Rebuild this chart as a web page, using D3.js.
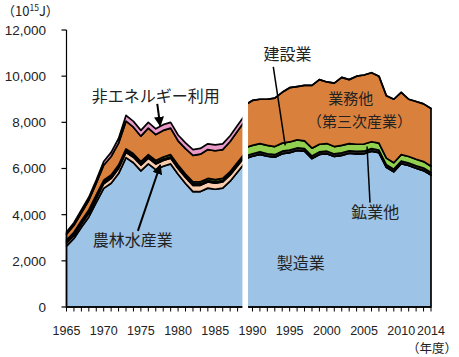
<!DOCTYPE html>
<html><head><meta charset="utf-8">
<script src="https://cdn.jsdelivr.net/npm/d3@7"></script>
<style>body{margin:0;background:#fff} svg{display:block}</style>
</head><body>
<svg id="c" width="459" height="357"></svg>
<script>
// ---- data (10^15 J) ----
const yearsOld = [1965,1966,1967,1968,1969,1970,1971,1972,1973,1974,1975,1976,1977,1978,1979,1980,1981,1982,1983,1984,1985,1986,1987,1988,1989];
const manuOld   = [2640,2970,3450,3900,4530,5140,5360,5780,6470,6250,5900,6200,5950,6100,6200,5750,5350,5000,5000,5150,5100,5150,5450,5850,6250];
const agriOld   = [120,130,140,160,180,200,210,220,230,240,250,250,250,250,250,250,260,270,270,270,270,270,270,270,270];
const miningOld = [60,60,60,60,60,60,60,60,60,60,60,60,60,60,60,60,60,60,60,60,60,60,60,60,60];
const constrOld = [80,80,85,85,90,90,90,90,90,90,90,90,90,90,90,90,90,90,90,90,90,90,90,90,90];
const commOld   = [250,300,350,420,500,650,800,950,1200,1150,1100,1150,1120,1150,1150,1050,1100,1150,1200,1250,1250,1250,1300,1350,1400];
const nonenOld  = [100,110,120,130,140,160,180,200,250,250,250,250,250,250,250,250,250,250,250,250,250,250,250,250,250];

const yearsNew = [1989,1990,1991,1992,1993,1994,1995,1996,1997,1998,1999,2000,2001,2002,2003,2004,2005,2006,2007,2008,2009,2010,2011,2012,2013,2014];
const manuNew   = [6430,6530,6610,6530,6490,6640,6690,6780,6750,6430,6610,6640,6520,6570,6660,6630,6640,6750,6690,6050,5860,6210,6130,6010,5910,5720];
const agriNew   = [0,0,0,0,0,0,0,0,0,0,0,0,0,0,0,0,0,0,0,0,0,0,0,0,0,0];
const miningNew = [110,110,110,110,110,110,110,110,110,110,110,110,110,110,110,110,110,110,110,110,110,110,110,110,110,110];
const constrNew = [360,360,360,360,350,350,350,350,340,340,330,330,320,320,310,310,310,300,300,290,280,280,280,280,280,270];
const commNew   = [1850,1950,1920,2000,2100,2200,2350,2310,2400,2720,2800,2670,2750,2950,2770,2950,2990,2990,2900,2700,2750,2700,2480,2500,2500,2500];
const nonenNew  = [0,0,0,0,0,0,0,0,0,0,0,0,0,0,0,0,0,0,0,0,0,0,0,0,0,0];

const keys = ["manu","agri","mining","constr","comm","nonen"];
const colors = {manu:"#9dc3e6", agri:"#f8cbad", mining:"#2a2a2a", constr:"#92d050", comm:"#d9813c", nonen:"#ea9ac8"};

const yTicks = [0,2000,4000,6000,8000,10000,12000];
const xLabels = [1965,1970,1975,1980,1985,1990,1995,2000,2005,2010,2014];
const breakYear = 1989;

// ---- scales ----
const svg = d3.select("#c");
const x = d3.scaleLinear().domain([1965, 2014]).range([66.5, 431]);
const y = d3.scaleLinear().domain([0, 12000]).range([307, 30]);

function rows(years, m, a, mi, c, co, n){
  return years.map((yr,i)=>({year:yr, manu:m[i], agri:a[i], mining:mi[i], constr:c[i], comm:co[i], nonen:n[i]}));
}
const segments = [
  rows(yearsOld, manuOld, agriOld, miningOld, constrOld, commOld, nonenOld),
  rows(yearsNew, manuNew, agriNew, miningNew, constrNew, commNew, nonenNew)
];
const stack = d3.stack().keys(keys);
const area = d3.area().x(d=>x(d.data.year)).y0(d=>y(d[0])).y1(d=>y(d[1]));

segments.forEach(seg=>{
  const layers = stack(seg);
  svg.append("g").selectAll("path").data(layers).join("path")
    .attr("d", area)
    .attr("fill", d=>colors[d.key])
    .attr("stroke", "#000")
    .attr("stroke-width", 1.7)
    .attr("stroke-linejoin", "round");
});

// ---- axes ----
const ax = svg.append("g").attr("stroke","#000").attr("fill","none");
ax.append("line").attr("x1",x(1965)).attr("x2",x(1965)).attr("y1",y(0)).attr("y2",y(12000)).attr("stroke-width",1.2);
yTicks.forEach(t=>{
  ax.append("line").attr("x1",x(1965)-5).attr("x2",x(1965)).attr("y1",y(t)).attr("y2",y(t)).attr("stroke-width",1.2);
});
ax.append("line").attr("x1",x(1965)).attr("x2",x(2014)).attr("y1",y(0)).attr("y2",y(0)).attr("stroke-width",1.6);
d3.range(1965, 2015).forEach(yr=>{
  ax.append("line").attr("x1",x(yr)).attr("x2",x(yr)).attr("y1",y(0)).attr("y2",y(0)+4.5).attr("stroke-width",1);
});

// white break between old and new statistics
svg.append("rect").attr("x", x(breakYear)-2.6).attr("width", 5.6)
  .attr("y", y(12000)).attr("height", y(0)-y(12000)+6).attr("fill","#fff");

const numFont = "'Liberation Sans', Arial, sans-serif";
const jpFont = "'Noto Sans CJK JP', sans-serif";

svg.append("g").selectAll("text").data(yTicks).join("text")
  .attr("x", 46).attr("y", d=>y(d)).attr("dy","0.36em")
  .attr("text-anchor","end").attr("font-family",numFont).attr("font-size",13.5).attr("fill","#222")
  .text(d=>d3.format(",")(d));

svg.append("g").selectAll("text").data(xLabels).join("text")
  .attr("x", d=>x(d)).attr("y", 335)
  .attr("text-anchor","middle").attr("font-family",numFont).attr("font-size",12.5).attr("fill","#222")
  .text(d=>d);

// unit labels
const unit = svg.append("text").attr("x",2).attr("y",16).attr("font-family",jpFont).attr("font-size",13).attr("fill","#222");
unit.append("tspan").text("（10");
unit.append("tspan").attr("font-size",8.5).attr("dy",-5).text("15");
unit.append("tspan").attr("dy",5).text("J）");
svg.append("text").attr("x",457).attr("y",353).attr("text-anchor","end")
  .attr("font-family",jpFont).attr("font-size",12.5).attr("fill","#222").text("（年度）");

// ---- annotations (positions in data units) ----
const defs = svg.append("defs");
defs.append("marker").attr("id","ah").attr("viewBox","0 0 10 10").attr("refX",9).attr("refY",5)
  .attr("markerWidth",10).attr("markerHeight",10).attr("markerUnits","userSpaceOnUse").attr("orient","auto")
  .append("path").attr("d","M0,0L10,5L0,10z").attr("fill","#000");

const labels = [
  {t:"非エネルギー利用", yr:1977.0, v:9150, size:16},
  {t:"農林水産業", yr:1973.9, v:2900, size:16},
  {t:"建設業", yr:1994.7, v:10950, size:16},
  {t:"業務他", yr:2003.2, v:9020, size:15},
  {t:"（第三次産業）", yr:2004.4, v:8020, size:15},
  {t:"鉱業他", yr:2006.5, v:4120, size:16},
  {t:"製造業", yr:1996.5, v:1900, size:16}
];
svg.append("g").selectAll("text").data(labels).join("text")
  .attr("x", d=>x(d.yr)).attr("y", d=>y(d.v)).attr("dy","0.36em")
  .attr("text-anchor","middle").attr("font-family",jpFont).attr("font-size",d=>d.size).attr("fill","#222")
  .text(d=>d.t);

const pointers = [
  {y1:1977.2, v1:8800, y2:1977.6, v2:7850, arrow:true},
  {y1:1974.6, v1:3300, y2:1977.6, v2:6150, arrow:true},
  {y1:1992.8, v1:10400, y2:1994.4, v2:7000, arrow:false},
  {y1:2005.8, v1:4520, y2:2005.4, v2:6950, arrow:false}
];
svg.append("g").selectAll("line").data(pointers).join("line")
  .attr("x1", d=>x(d.y1)).attr("y1", d=>y(d.v1)).attr("x2", d=>x(d.y2)).attr("y2", d=>y(d.v2))
  .attr("stroke","#000").attr("stroke-width",d=>d.arrow?2:1.5)
  .attr("marker-end", d=>d.arrow?"url(#ah)":null);
</script>
</body></html>
